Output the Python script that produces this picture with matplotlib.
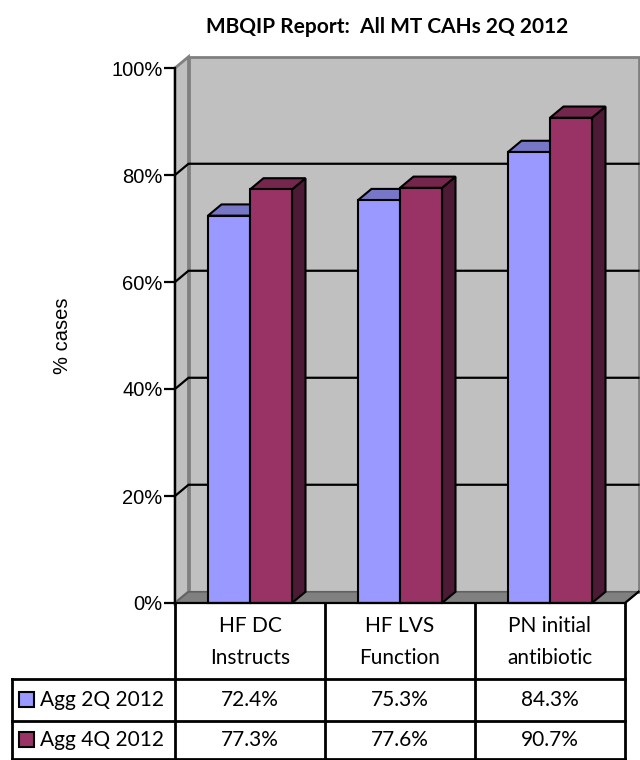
import numpy as np
import matplotlib.pyplot as plt
from matplotlib.patches import Polygon, Rectangle

# ---------- data ----------
categories = ["HF DC\nInstructs", "HF LVS\nFunction", "PN initial\nantibiotic"]
series = ["Agg 2Q 2012", "Agg 4Q 2012"]
agg_2q = [72.4, 75.3, 84.3]
agg_4q = [77.3, 77.6, 90.7]
yticks = [0, 20, 40, 60, 80, 100]

# ---------- style ----------
W, H = 640, 760
FRONT = ["#9999FF", "#993366"]
TOP = ["#7777C8", "#74264C"]
SIDE = ["#5A5A9E", "#4C1A35"]
WALL = "#C0C0C0"
WALL_EDGE = "#808080"
FLOOR = "#808080"
TXT_FONT = ["Lato", "DejaVu Sans"]
AX_FONT = ["Liberation Sans", "DejaVu Sans"]

DX, DY = 0.09, 2.1      # depth offset (category units, % units)
BAR_W = 0.28
N = len(categories)


def fx(px):
    return px / W


def fy(py):
    return 1 - py / H


fig = plt.figure(figsize=(W / 100, H / 100), dpi=100)
fig.patch.set_facecolor("white")

# plot area: x in category units (150 px each), y in percent (5.35 px each)
ax = fig.add_axes([fx(175), fy(603), fx(465), 553 / H])
ax.set_xlim(0, 465 / 150)
ax.set_ylim(0, 553 / 5.35)
ax.set_facecolor("none")
for s in ["top", "right", "bottom"]:
    ax.spines[s].set_visible(False)
ax.spines["left"].set_bounds(0, 100)
ax.spines["left"].set_linewidth(1.6)
ax.spines["left"].set_zorder(10)
ax.set_xticks([])
ax.set_yticks(yticks)
ax.set_yticklabels([f"{t}%" for t in yticks], family=AX_FONT, fontsize=14.5)
ax.tick_params(axis="y", length=8, width=1.6, pad=1)


def poly(pts, fc, ec, lw, z):
    ax.add_patch(Polygon(pts, closed=True, facecolor=fc, edgecolor=ec,
                         linewidth=lw, zorder=z, clip_on=False, joinstyle="miter"))


# walls and floor
poly([(DX, DY), (N + DX, DY), (N + DX, 100 + DY), (DX, 100 + DY)], WALL, WALL_EDGE, 2, 1)
poly([(0, 0), (0, 100), (DX, 100 + DY), (DX, DY)], WALL, WALL_EDGE, 2, 1)
poly([(0, 0), (N, 0), (N + DX, DY), (DX, DY)], FLOOR, "#606060", 1.2, 2)

# gridlines across side and back wall
for t in yticks[1:-1]:
    ax.plot([0, DX, N + DX], [t, t + DY, t + DY], color="black", lw=1.6,
            zorder=3, clip_on=False, solid_joinstyle="miter")

# front floor edges
ax.plot([0, N, N + DX], [0, 0, DY], color="black", lw=1.6, zorder=9, clip_on=False)

# 3-D columns
x = np.arange(N) + 0.5
for k, vals in enumerate([agg_2q, agg_4q]):
    for i, v in enumerate(vals):
        x0 = x[i] - BAR_W + k * BAR_W
        x1 = x0 + BAR_W
        z = 5 + k
        poly([(x1, 0), (x1 + DX, DY), (x1 + DX, v + DY), (x1, v)], SIDE[k], "black", 1.5, z)
        poly([(x0, v), (x1, v), (x1 + DX, v + DY), (x0 + DX, v + DY)], TOP[k], "black", 1.5, z)
        poly([(x0, 0), (x1, 0), (x1, v), (x0, v)], FRONT[k], "black", 1.5, z)

ax.text(-0.75, 50, "% cases", rotation=90, ha="center", va="center",
        family=AX_FONT, fontsize=14.5)

fig.text(fx(387), fy(27), "MBQIP Report:  All MT CAHs 2Q 2012", ha="center",
         va="center", family=TXT_FONT, fontsize=15, fontweight="bold")

# ---------- data table ----------
tb = fig.add_axes([0, 0, 1, 1])
tb.set_xlim(0, W)
tb.set_ylim(H, 0)
tb.axis("off")
tb.patch.set_alpha(0)

col_x = [175, 325, 475, 625]
left_x = 12
row_y = [603, 679, 721, 759]
lw = 2

for cx in col_x:
    tb.plot([cx, cx], [row_y[0], row_y[-1]], color="black", lw=lw)
tb.plot([left_x, left_x], [row_y[1], row_y[-1]], color="black", lw=lw)
for ry in row_y[1:]:
    tb.plot([left_x, col_x[-1]], [ry, ry], color="black", lw=lw)

for i, cat in enumerate(categories):
    cx = (col_x[i] + col_x[i + 1]) / 2
    tb.text(cx, (row_y[0] + row_y[1]) / 2 + 1, cat, ha="center", va="center",
            family=TXT_FONT, fontsize=15, linespacing=1.7)

for r, (name, vals) in enumerate(zip(series, [agg_2q, agg_4q])):
    cy = (row_y[r + 1] + row_y[r + 2]) / 2
    tb.add_patch(Rectangle((19, cy - 8), 15, 15, facecolor=FRONT[r],
                           edgecolor="black", lw=1.5))
    tb.text(40, cy, name, ha="left", va="center", family=TXT_FONT, fontsize=15)
    for i, v in enumerate(vals):
        cx = (col_x[i] + col_x[i + 1]) / 2
        tb.text(cx, cy, f"{v:.1f}%", ha="center", va="center",
                family=TXT_FONT, fontsize=15)

fig.savefig("out.png", dpi=100)
